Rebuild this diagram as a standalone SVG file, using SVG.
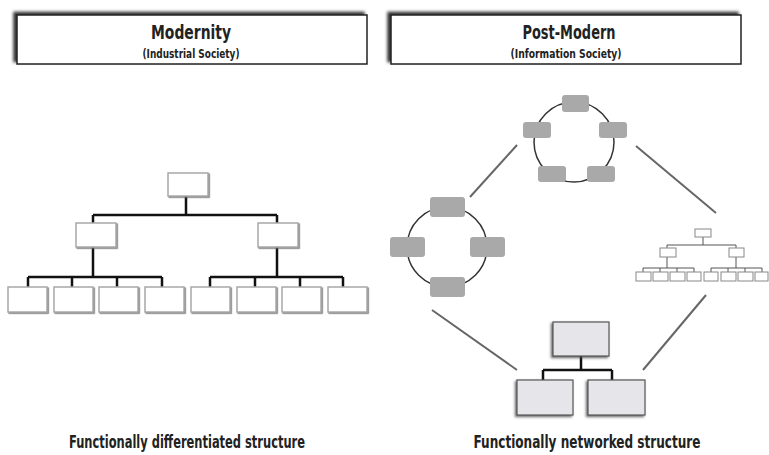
<svg xmlns="http://www.w3.org/2000/svg" width="769" height="455" viewBox="0 0 769 455">
<defs>
<filter id="hdrShadow" x="-10%" y="-30%" width="120%" height="160%">
<feDropShadow dx="-3" dy="-2.5" stdDeviation="1.8" flood-color="#000" flood-opacity="0.8"/>
</filter>
<filter id="boxShadow" x="-20%" y="-20%" width="140%" height="140%">
<feDropShadow dx="1.2" dy="1.2" stdDeviation="0.6" flood-color="#666" flood-opacity="0.8"/>
</filter>
<filter id="bigShadow" x="-20%" y="-20%" width="140%" height="140%">
<feDropShadow dx="-1.5" dy="1.5" stdDeviation="0.8" flood-color="#444" flood-opacity="0.8"/>
</filter>
</defs>
<style>
.hdr{fill:#fff;stroke:#222;stroke-width:1.5}
.title{font-family:"Liberation Sans Narrow","DejaVu Sans Condensed","Liberation Sans",sans-serif;font-weight:bold;fill:#222;text-anchor:middle}
.wbox{fill:#fff;stroke:#a8a8a8;stroke-width:1.5}
.sbox{fill:#fff;stroke:#888;stroke-width:1}
.gbox{fill:#a9a9a9;stroke:none}
.lbox{fill:#e6e6ea;stroke:#555;stroke-width:1.2}
.tree{fill:none;stroke:#111;stroke-width:2.5}
.stree{fill:none;stroke:#555;stroke-width:1}
.ring{fill:none;stroke:#333;stroke-width:1.5}
.link{fill:none;stroke:#666;stroke-width:2}
</style>

<g id="header-modernity">
<rect class="hdr" x="17" y="15" width="350" height="49" filter="url(#hdrShadow)"/>
<text class="title" x="191" y="39" font-size="20" textLength="80" lengthAdjust="spacingAndGlyphs">Modernity</text>
<text class="title" x="191" y="58" font-size="12" textLength="97" lengthAdjust="spacingAndGlyphs">(Industrial Society)</text>
</g>

<g id="header-postmodern">
<rect class="hdr" x="391" y="15" width="350" height="49" filter="url(#hdrShadow)"/>
<text class="title" x="569" y="39" font-size="20" textLength="93" lengthAdjust="spacingAndGlyphs">Post-Modern</text>
<text class="title" x="566" y="58" font-size="12" textLength="111" lengthAdjust="spacingAndGlyphs">(Information Society)</text>
</g>

<g id="connectors">
<path class="tree" d="M186 196 V215 M93 215 H277 M93 215 V223 M277 215 V223 M93 247 V277 M277 247 V277 M28 277 H162 M210 277 H343 M28 277 V287 M72 277 V287 M117 277 V287 M162 277 V287 M210 277 V287 M255 277 V287 M300 277 V287 M343 277 V287"/>
<line class="link" x1="470" y1="197" x2="517" y2="145"/>
<line class="link" x1="636" y1="146" x2="716" y2="213"/>
<line class="link" x1="432" y1="310" x2="517" y2="370"/>
<line class="link" x1="706" y1="295" x2="643" y2="370"/>
<circle class="ring" cx="574" cy="142" r="40"/>
<circle class="ring" cx="447" cy="247" r="40"/>
<path class="stree" d="M703 237 V245 M667 245 H736 M667 245 V248 M736 245 V248 M667 257 V268 M736 257 V268 M643 268 H694 M711 268 H762 M643 268 V272 M660 268 V272 M677 268 V272 M694 268 V272 M711 268 V272 M728 268 V272 M745 268 V272 M762 268 V272"/>
<path class="tree" d="M581 356 V370 M543 370 H612 M543 370 V380 M612 370 V380"/>
</g>

<g id="mod-top"><rect class="wbox" x="168" y="173" width="40" height="23" filter="url(#boxShadow)"/></g>
<g id="mod-mid-1"><rect class="wbox" x="76" y="223" width="40" height="24" filter="url(#boxShadow)"/></g>
<g id="mod-mid-2"><rect class="wbox" x="258" y="223" width="40" height="24" filter="url(#boxShadow)"/></g>
<g id="mod-leaf-1"><rect class="wbox" x="8" y="287" width="39" height="25" filter="url(#boxShadow)"/></g>
<g id="mod-leaf-2"><rect class="wbox" x="54" y="287" width="39" height="25" filter="url(#boxShadow)"/></g>
<g id="mod-leaf-3"><rect class="wbox" x="99" y="287" width="39" height="25" filter="url(#boxShadow)"/></g>
<g id="mod-leaf-4"><rect class="wbox" x="145" y="287" width="39" height="25" filter="url(#boxShadow)"/></g>
<g id="mod-leaf-5"><rect class="wbox" x="191" y="287" width="39" height="25" filter="url(#boxShadow)"/></g>
<g id="mod-leaf-6"><rect class="wbox" x="237" y="287" width="39" height="25" filter="url(#boxShadow)"/></g>
<g id="mod-leaf-7"><rect class="wbox" x="282" y="287" width="39" height="25" filter="url(#boxShadow)"/></g>
<g id="mod-leaf-8"><rect class="wbox" x="328" y="287" width="39" height="25" filter="url(#boxShadow)"/></g>

<g id="ring5">
<rect class="gbox" x="562" y="95" width="27" height="17" rx="3"/>
<rect class="gbox" x="523" y="122" width="28" height="16" rx="3"/>
<rect class="gbox" x="599" y="122" width="28" height="16" rx="3"/>
<rect class="gbox" x="538" y="166" width="28" height="16" rx="3"/>
<rect class="gbox" x="587" y="166" width="28" height="16" rx="3"/>
</g>

<g id="ring4">
<rect class="gbox" x="430" y="197" width="35" height="20" rx="3"/>
<rect class="gbox" x="390" y="237" width="35" height="20" rx="3"/>
<rect class="gbox" x="470" y="237" width="35" height="20" rx="3"/>
<rect class="gbox" x="430" y="277" width="35" height="20" rx="3"/>
</g>

<g id="small-tree">
<rect class="sbox" x="695" y="229" width="16" height="8"/>
<rect class="sbox" x="660" y="248" width="16" height="9"/>
<rect class="sbox" x="729" y="248" width="15" height="9"/>
<rect class="sbox" x="636" y="272" width="15" height="9"/>
<rect class="sbox" x="653" y="272" width="15" height="9"/>
<rect class="sbox" x="670" y="272" width="15" height="9"/>
<rect class="sbox" x="687" y="272" width="14" height="9"/>
<rect class="sbox" x="704" y="272" width="14" height="9"/>
<rect class="sbox" x="721" y="272" width="15" height="9"/>
<rect class="sbox" x="738" y="272" width="15" height="9"/>
<rect class="sbox" x="755" y="272" width="13" height="9"/>
</g>

<g id="bottom-tree">
<rect class="lbox" x="553" y="322" width="56" height="34" filter="url(#bigShadow)"/>
<rect class="lbox" x="517" y="380" width="56" height="35" filter="url(#bigShadow)"/>
<rect class="lbox" x="588" y="380" width="57" height="35" filter="url(#bigShadow)"/>
</g>

<g id="footer-left">
<text class="title" x="187" y="448" font-size="17" textLength="236" lengthAdjust="spacingAndGlyphs">Functionally differentiated structure</text>
</g>
<g id="footer-right">
<text class="title" x="587" y="448" font-size="17" textLength="227" lengthAdjust="spacingAndGlyphs">Functionally networked structure</text>
</g>
</svg>
